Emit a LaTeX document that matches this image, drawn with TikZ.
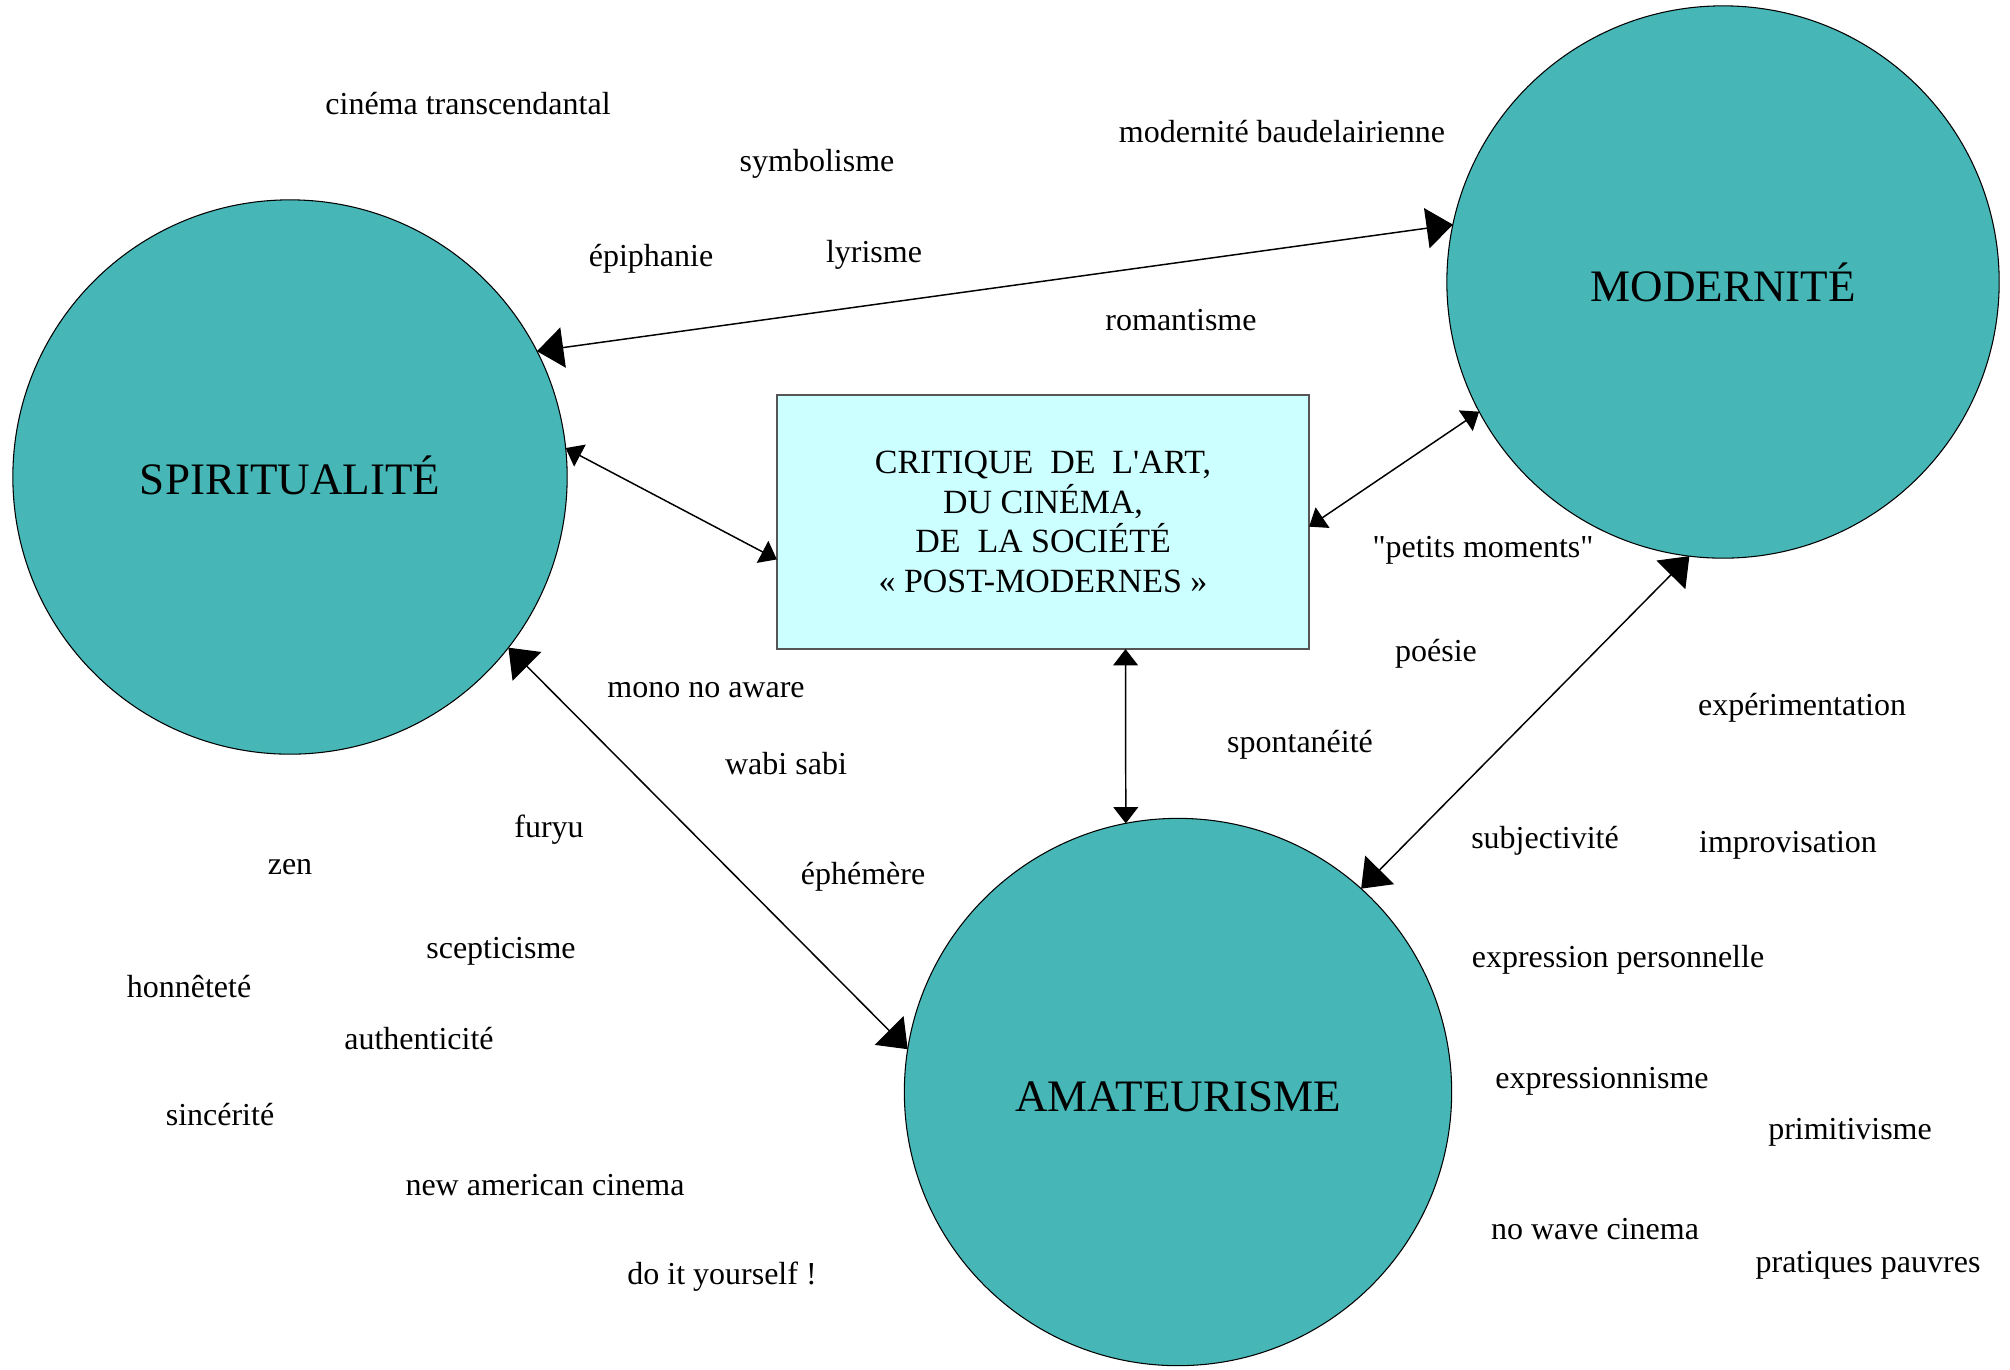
\documentclass[tikz,border=0pt]{standalone}
\usepackage{fontspec}
\setmainfont{Liberation Serif}
\usetikzlibrary{arrows.meta}
\definecolor{teal1}{HTML}{47B6B6}
\definecolor{cyan1}{HTML}{CCFFFF}
\definecolor{boxline}{HTML}{555555}
\tikzset{
  bigcircle/.style={circle, draw=black, line width=0.3pt, fill=teal1, inner sep=0pt, outer sep=0pt,
    font=\fontsize{12.8}{15}\selectfont},
  critbox/.style={rectangle, draw=boxline, line width=0.4pt, fill=cyan1, inner sep=0pt, outer sep=0pt,
    minimum width=5.32cm, minimum height=2.54cm, align=center, font=\fontsize{9.65}{11.3}\selectfont},
  lbl/.style={inner sep=0pt, font=\fontsize{9.1}{11}\selectfont, text height=6.3pt, text depth=1.9pt, yshift=-1.1pt},
  bigarrow/.style={line width=0.42pt, {Triangle[length=7.5pt,width=11.5pt]}-{Triangle[length=7.5pt,width=11.5pt]}},
  smallarrow/.style={line width=0.42pt, {Triangle[length=4.6pt,width=7pt]}-{Triangle[length=4.6pt,width=7pt]}}
}
\begin{document}
\begin{tikzpicture}[x=0.01cm, y=-0.01cm]
\useasboundingbox[fill=white] (0,0) rectangle (2010,1369);
% main nodes
\node[bigcircle, minimum size=5.54cm] (S) at (290,477) {\raisebox{0.4pt}[\height][\depth]{SPIRITUALITÉ}};
\node[bigcircle, minimum size=5.52cm] (M) at (1723,282) {MODERNITÉ};
\node[bigcircle, minimum size=5.47cm] (A) at (1178,1092) {\raisebox{-1.3pt}[\height][\depth]{AMATEURISME}};
\node[critbox] (B) at (1043,522) {CRITIQUE~ DE~ L\textquotesingle ART,\\DU CINÉMA,\\DE~ LA SOCIÉTÉ\\« POST-MODERNES »};
% connectors
\draw[bigarrow] (S.27) -- (M.168.5);
\draw[smallarrow] (S.6.6) -- (B.188.3);
\draw[smallarrow] (B.-1.3) -- (M.208);
\draw[smallarrow] (B.-57.5) -- (A.101.4);
\draw[bigarrow] (S.-38.6) -- (A.171.3);
\draw[bigarrow] (M.263.2) -- (A.48.4);
% labels
\node[lbl] (l1) at (468,103) {cinéma transcendantal};
\node[lbl] (l2) at (817,160) {symbolisme};
\node[lbl] (l3) at (1282,131) {modernité baudelairienne};
\node[lbl] (l4) at (651,255) {épiphanie};
\node[lbl] (l5) at (874,251) {lyrisme};
\node[lbl] (l6) at (1181,319) {romantisme};
\node[lbl] (l7) at (1483,546) {\textquotedbl petits moments\textquotedbl};
\node[lbl] (l8) at (1436,650) {poésie};
\node[lbl] (l9) at (1802,704) {expérimentation};
\node[lbl] (l10) at (1300,741) {spontanéité};
\node[lbl] (l11) at (706,686) {mono no aware};
\node[lbl] (l12) at (786,763) {wabi sabi};
\node[lbl] (l13) at (549,826) {furyu};
\node[lbl] (l14) at (290,863) {zen};
\node[lbl] (l15) at (863,873) {éphémère};
\node[lbl] (l16) at (1545,837) {subjectivité};
\node[lbl] (l17) at (1788,841) {improvisation};
\node[lbl] (l18) at (501,947) {scepticisme};
\node[lbl] (l19) at (189,986) {honnêteté};
\node[lbl] (l20) at (1618,956) {expression personnelle};
\node[lbl] (l21) at (419,1038) {authenticité};
\node[lbl] (l22) at (1602,1077) {expressionnisme};
\node[lbl] (l23) at (1850,1128) {primitivisme};
\node[lbl] (l24) at (220,1114) {sincérité};
\node[lbl] (l25) at (545,1184) {new american cinema};
\node[lbl] (l26) at (1595,1228) {no wave cinema};
\node[lbl] (l27) at (722,1273) {do it yourself !};
\node[lbl] (l28) at (1868,1261) {pratiques pauvres};
\end{tikzpicture}
\end{document}
